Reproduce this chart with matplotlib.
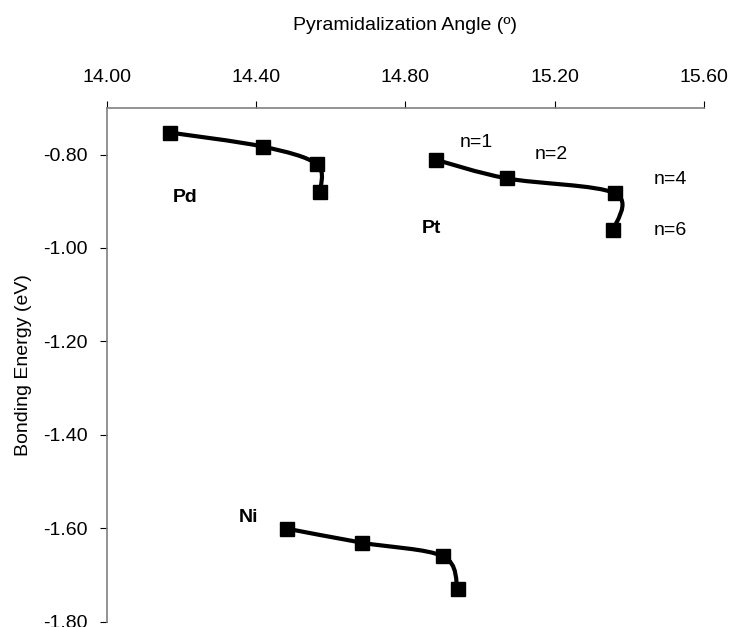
import numpy as np
import matplotlib
matplotlib.use("Agg")
from matplotlib import pyplot as plt
from matplotlib.path import Path
from matplotlib.patches import PathPatch

plt.rcParams['font.family'] = ['Liberation Sans', 'DejaVu Sans']

# pyramidalization angle (deg) and bonding energy (eV) for n = 1, 2, 4, 6
pd_angle = [14.169, 14.418, 14.563, 14.571]
pd_energy = [-0.753, -0.783, -0.821, -0.881]
pt_angle = [14.881, 15.072, 15.362, 15.358]
pt_energy = [-0.811, -0.851, -0.883, -0.962]
ni_angle = [14.483, 14.684, 14.901, 14.940]
ni_energy = [-1.601, -1.631, -1.660, -1.729]

x_ticks = [14.00, 14.40, 14.80, 15.20, 15.60]
y_ticks = [-0.80, -1.00, -1.20, -1.40, -1.60, -1.80]


def smooth_path(xs, ys):
    # Excel-like smoothed line: cubic bezier segments (catmull-rom control points)
    p = np.column_stack([xs, ys])
    pts = np.vstack([p[0], p, p[-1]])
    verts = [p[0]]
    codes = [Path.MOVETO]
    for i in range(1, len(pts) - 2):
        c1 = pts[i] + (pts[i + 1] - pts[i - 1]) / 6.0
        c2 = pts[i + 1] - (pts[i + 2] - pts[i]) / 6.0
        verts += [c1, c2, pts[i + 1]]
        codes += [Path.CURVE4] * 3
    return Path(verts, codes)


fig = plt.figure(figsize=(7.33, 6.27), dpi=100)
ax = fig.add_axes([0.146, 0.0085, 0.814, 0.8195])

for xs, ys in [(pd_angle, pd_energy), (pt_angle, pt_energy), (ni_angle, ni_energy)]:
    ax.add_patch(PathPatch(smooth_path(xs, ys), facecolor='none', edgecolor='black', lw=3, zorder=2))
    ax.plot(xs, ys, linestyle='none', marker='s', ms=10, color='black', zorder=3)

ax.set_xlim(14.00, 15.60)
ax.set_ylim(-1.80, -0.70)
ax.set_xticks(x_ticks)
ax.set_yticks(y_ticks)
ax.xaxis.set_major_formatter(matplotlib.ticker.FormatStrFormatter('%.2f'))
ax.yaxis.set_major_formatter(matplotlib.ticker.FormatStrFormatter('%.2f'))
ax.xaxis.tick_top()
ax.xaxis.set_label_position('top')
ax.tick_params(axis='x', direction='out', length=5, pad=11, labelsize=14, color='black')
ax.tick_params(axis='y', direction='out', length=5, pad=9, labelsize=14, color='black')

for side in ['bottom', 'right']:
    ax.spines[side].set_visible(False)
for side in ['top', 'left']:
    ax.spines[side].set_color('#808080')
    ax.spines[side].set_linewidth(1.2)

ax.set_xlabel('Pyramidalization Angle (º)', fontsize=14, labelpad=28)
ax.set_ylabel('Bonding Energy (eV)', fontsize=14, labelpad=8)

ax.text(14.209, -0.892, 'Pd', fontsize=14, fontweight='bold', ha='center', va='center')
ax.text(14.871, -0.958, 'Pt', fontsize=14, fontweight='bold', ha='center', va='center')
ax.text(14.380, -1.576, 'Ni', fontsize=14, fontweight='bold', ha='center', va='center')
ax.text(14.991, -0.774, 'n=1', fontsize=14, ha='center', va='center')
ax.text(15.192, -0.800, 'n=2', fontsize=14, ha='center', va='center')
ax.text(15.511, -0.853, 'n=4', fontsize=14, ha='center', va='center')
ax.text(15.511, -0.963, 'n=6', fontsize=14, ha='center', va='center')

fig.savefig('out.png', dpi=100)
